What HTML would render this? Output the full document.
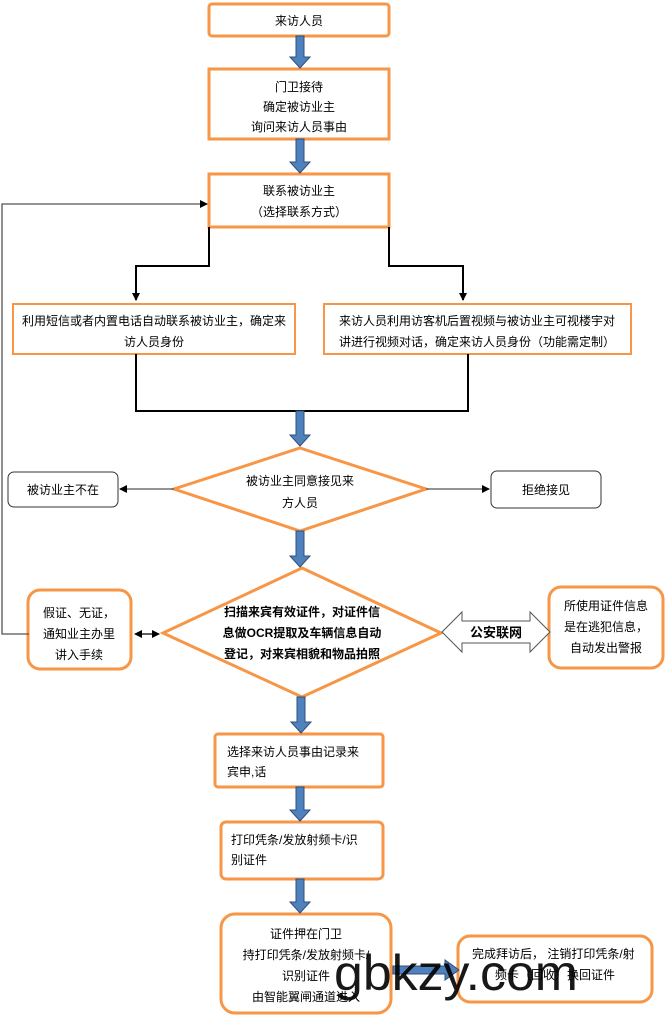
<!DOCTYPE html>
<html><head><meta charset="utf-8"><style>
body{margin:0;background:#fff}
svg text{font-family:"Liberation Sans","Noto Sans CJK SC",sans-serif;font-size:12px;fill:#000}
</style></head><body>
<svg width="667" height="1018" viewBox="0 0 667 1018" xmlns="http://www.w3.org/2000/svg">
<defs>
<marker id="ah" markerWidth="8" markerHeight="8" refX="7" refY="4" orient="auto" markerUnits="userSpaceOnUse"><path d="M0,0 L8,4 L0,8 Z" fill="#000"/></marker>
<marker id="ahs" markerWidth="8" markerHeight="8" refX="1" refY="4" orient="auto" markerUnits="userSpaceOnUse"><path d="M8,0 L0,4 L8,8 Z" fill="#000"/></marker>
</defs>
<g fill="none" stroke="#f79646" stroke-width="3">
<rect x="209" y="4" width="180" height="32" rx="3"/>
<rect x="209" y="69" width="180" height="70"/>
<rect x="209" y="174" width="180" height="53"/>
<rect x="13" y="304" width="282" height="50" stroke-width="2"/>
<rect x="324" y="304" width="307" height="50" stroke-width="2"/>
<polygon points="300,448 426,489 300,531 174,489"/>
<polygon points="302,568 441,633 302,697 163,633"/>
<rect x="28" y="590" width="103" height="79" rx="12"/>
<rect x="549" y="587" width="114" height="81" rx="12"/>
<rect x="215" y="734" width="168" height="53" rx="3"/>
<rect x="221" y="822" width="162" height="57" rx="5"/>
<rect x="221" y="914" width="170" height="99" rx="14"/>
<rect x="458" y="936" width="194" height="66" rx="12"/>
</g>
<g fill="none" stroke="#000" stroke-width="2">
<path d="M209,227 V266 H136 V300" marker-end="url(#ah)"/>
<path d="M389,227 V266 H463 V300" marker-end="url(#ah)"/>
<path d="M136,354 V411 H468 V354"/>
</g>
<g fill="none" stroke="#555" stroke-width="1.3">
<path d="M29,634 H2 V204 H207" marker-end="url(#ah)"/>
<path d="M174,489 H120" marker-end="url(#ah)"/>
<path d="M426,489 H489" marker-end="url(#ah)"/>
<path d="M135,634 H159" marker-end="url(#ah)" marker-start="url(#ahs)" stroke="#000"/>
</g>
<rect x="8" y="472" width="110" height="35" rx="6" fill="#fff" stroke="#333"/>
<rect x="491" y="471" width="110" height="37" rx="6" fill="#fff" stroke="#333"/>
<g fill="#4f81bd" stroke="#2f4f7a" stroke-width="1">
<path d="M296,36 h8 v21 h6 l-10,11 l-10,-11 h6 z"/>
<path d="M296,139 h8 v23 h6 l-10,11 l-10,-11 h6 z"/>
<path d="M296,411 h8 v24 h6 l-10,11 l-10,-11 h6 z"/>
<path d="M296,531 h8 v25 h6 l-10,11 l-10,-11 h6 z"/>
<path d="M297,697 h8 v25 h6 l-10,11 l-10,-11 h6 z"/>
<path d="M296,787 h8 v23 h6 l-10,11 l-10,-11 h6 z"/>
<path d="M296,879 h8 v23 h6 l-10,11 l-10,-11 h6 z"/>
<path d="M393,966 h52 v-6 l14,10 l-14,10 v-6 h-52 z"/>
</g>
<path d="M442,632 L462,612 V621 H530 V612 L550,632 L530,652 V643 H462 V652 Z" fill="#fff" stroke="#555"/>
<text x="496" y="637" text-anchor="middle" style="font-size:13px;font-weight:bold">公安联网</text>
<g text-anchor="middle">
<text x="299" y="25">来访人员</text>
<text x="299" y="91">门卫接待</text>
<text x="299" y="111">确定被访业主</text>
<text x="299" y="131">询问来访人员事由</text>
<text x="299" y="195">联系被访业主</text>
<text x="299" y="216">（选择联系方式）</text>
<text x="154" y="325">利用短信或者内置电话自动联系被访业主，确定来</text>
<text x="154" y="346">访人员身份</text>
<text x="477" y="325">来访人员利用访客机后置视频与被访业主可视楼宇对</text>
<text x="477" y="346">讲进行视频对话，确定来访人员身份（功能需定制）</text>
<text x="300" y="485">被访业主同意接见来</text>
<text x="300" y="507">方人员</text>
<text x="63" y="494">被访业主不在</text>
<text x="546" y="494">拒绝接见</text>
<g style="font-size:9.5px;font-weight:bold">
<text x="302" y="616">扫描来宾有效证件，对证件信</text>
<text x="302" y="637">息做OCR提取及车辆信息自动</text>
<text x="302" y="658">登记，对来宾相貌和物品拍照</text>
</g>
<text x="79" y="617">假证、无证，</text>
<text x="79" y="638">通知业主办里</text>
<text x="79" y="659">讲入手续</text>
<text x="606" y="610">所使用证件信息</text>
<text x="606" y="631">是在逃犯信息，</text>
<text x="606" y="652">自动发出警报</text>
</g>
<text x="227" y="756">选择来访人员事由记录来</text>
<text x="227" y="776">宾申,话</text>
<text x="231" y="844">打印凭条/发放射频卡/识</text>
<text x="231" y="864">别证件</text>
<g text-anchor="middle">
<text x="306" y="938">证件押在门卫</text>
<text x="306" y="959">持打印凭条/发放射频卡/</text>
<text x="306" y="980">识别证件</text>
<text x="306" y="1001">由智能翼闸通道进入</text>
</g>
<text x="472" y="958">完成拜访后， 注销打印凭条/射</text>
<text x="495" y="979">频卡（回收）换回证件</text>
<text x="334" y="990" textLength="244" lengthAdjust="spacingAndGlyphs" style="font-size:50px;fill:#000;opacity:0.9">gbkzy.com</text>
</svg>
</body></html>
